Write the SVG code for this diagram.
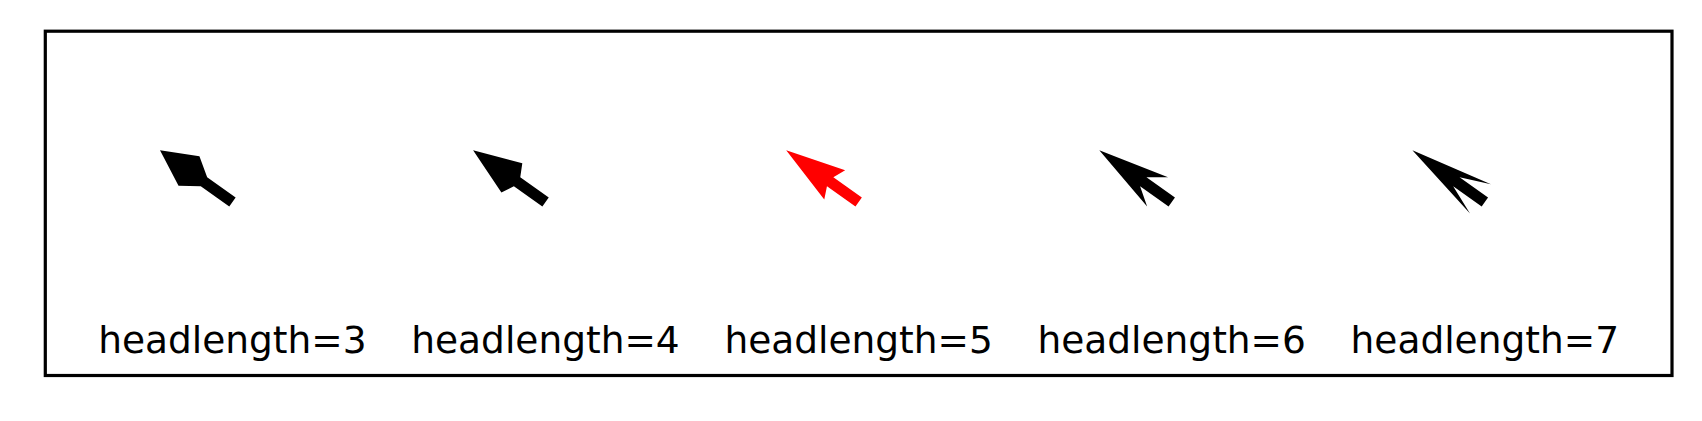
<svg xmlns="http://www.w3.org/2000/svg" width="1702" height="421" viewBox="0 0 1702 421">
<style>
.frame{fill:none;stroke:#000;stroke-width:3.2}
.arr{fill:#000;stroke:none}
.arr.red{fill:#ff0000}
.lbl{font-family:"DejaVu Sans","Liberation Sans",sans-serif;font-size:37.5px;fill:#000;text-anchor:middle}
</style>
<rect width="1702" height="421" fill="#fff"/>
<rect class="frame" x="45.3" y="31.2" width="1626.7" height="344.3"/>
<g id="arrow-hl3">
<polygon class="arr" transform="translate(160,150.3) rotate(35.5)" points="0,0 35.6,-18 54,-5.5 89,-5.5 89,5.5 54,5.5 35.6,18"/>
<text class="lbl" x="232.4" y="352.7">headlength=3</text>
</g>
<g id="arrow-hl4">
<polygon class="arr" transform="translate(473.1,150.3) rotate(35.5)" points="0,0 47.6,-18 54,-5.5 89,-5.5 89,5.5 54,5.5 47.6,18"/>
<text class="lbl" x="545.5" y="352.7">headlength=4</text>
</g>
<g id="arrow-hl5">
<polygon class="arr red" transform="translate(786.2,150.3) rotate(35.5)" points="0,0 59.6,-18 54,-5.5 89,-5.5 89,5.5 54,5.5 59.6,18"/>
<text class="lbl" x="858.6" y="352.7">headlength=5</text>
</g>
<g id="arrow-hl6">
<polygon class="arr" transform="translate(1099.3,150.3) rotate(35.5)" points="0,0 71.6,-18 54,-5.5 89,-5.5 89,5.5 54,5.5 71.6,18"/>
<text class="lbl" x="1171.7" y="352.7">headlength=6</text>
</g>
<g id="arrow-hl7">
<polygon class="arr" transform="translate(1412.4,150.3) rotate(35.5)" points="0,0 83.6,-18 54,-5.5 89,-5.5 89,5.5 54,5.5 83.6,18"/>
<text class="lbl" x="1484.8" y="352.7">headlength=7</text>
</g>
<g id="connectors"></g>
</svg>
